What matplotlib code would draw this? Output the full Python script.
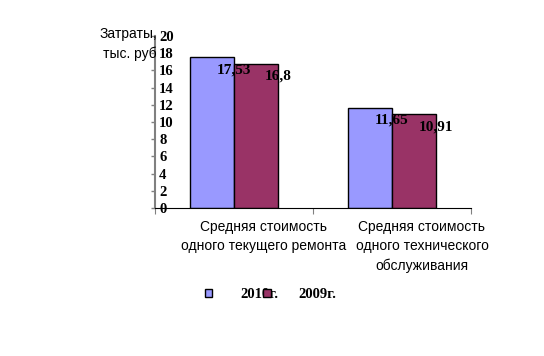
import matplotlib.pyplot as plt
import matplotlib.transforms as mtransforms

categories = ['Средняя стоимость\nодного текущего ремонта',
              'Средняя стоимость\nодного технического\nобслуживания']
series_names = ['2010г.', '2009г.']
values_2010 = [17.53, 11.65]
values_2009 = [16.8, 10.91]
value_labels_2010 = ['17,53', '11,65']
value_labels_2009 = ['16,8', '10,91']
y_ticks = list(range(0, 21, 2))

blue = '#9999FF'
plum = '#993366'
serif_bold = {'family': ['Liberation Serif', 'DejaVu Serif'], 'weight': 'bold'}
narrow = ['Liberation Sans Narrow', 'Liberation Sans', 'DejaVu Sans']

fig = plt.figure(figsize=(5.44, 3.56), dpi=100)
ax = fig.add_axes([155 / 544, 1 - 208 / 356, 316 / 544, 172 / 356])

x = [0, 1]
w = 0.28
b1 = ax.bar([i - w / 2 for i in x], values_2010, w, color=blue,
            edgecolor='black', linewidth=1, label=series_names[0])
b2 = ax.bar([i + w / 2 for i in x], values_2009, w, color=plum,
            edgecolor='black', linewidth=1, label=series_names[1])

# value labels sit on the right edge of each bar, a bit under the top
for bars, labels in ((b1, value_labels_2010), (b2, value_labels_2009)):
    for rect, lab in zip(bars, labels):
        ax.annotate(lab, (rect.get_x() + rect.get_width(), rect.get_height()),
                    xytext=(0, -9), textcoords='offset points',
                    ha='center', va='center', fontsize=11, **serif_bold)

ax.set_xlim(-0.5, 1.5)
ax.set_ylim(0, 20)
ax.set_yticks(y_ticks)
ax.set_yticklabels([str(t) for t in y_ticks], fontsize=10.5, **serif_bold)
ax.tick_params(axis='y', direction='out', length=3, width=1,
               color='#808080', pad=-6)
for lab in ax.get_yticklabels():
    lab.set_horizontalalignment('left')

# category boundaries get the tick marks, labels go on minor ticks
ax.set_xticks([-0.5, 0.5, 1.5])
ax.set_xticklabels([])
ax.tick_params(axis='x', which='major', direction='out', length=4,
               color='#808080')
ax.set_xticks(x, minor=True)
ax.set_xticklabels(categories, minor=True, fontsize=10, family=narrow,
                   linespacing=1.45)
ax.tick_params(axis='x', which='minor', length=0, pad=9)
shift = mtransforms.ScaledTranslation(30 / 100, 0, fig.dpi_scale_trans)
for lab in ax.xaxis.get_minorticklabels():
    lab.set_transform(lab.get_transform() + shift)

for s in ('top', 'right'):
    ax.spines[s].set_visible(False)
ax.spines['left'].set_color('#808080')
ax.spines['left'].set_linewidth(1.5)
ax.spines['bottom'].set_color('black')

fig.text(157 / 544, 1 - 44 / 356, 'Затраты,\nтыс. руб', ha='right',
         va='center', fontsize=10, family=narrow, linespacing=1.5)

fig.legend(handles=[b1, b2], labels=series_names, ncol=2, frameon=False,
           loc='center left', bbox_to_anchor=(205 / 544, 1 - 295 / 356),
           borderpad=0, borderaxespad=0, handlelength=0.5, handleheight=0.5,
           handletextpad=1.9, columnspacing=-1.0,
           prop={'family': ['Liberation Serif', 'DejaVu Serif'],
                 'weight': 'bold', 'size': 10.5})

fig.savefig('out.png', dpi=100)
